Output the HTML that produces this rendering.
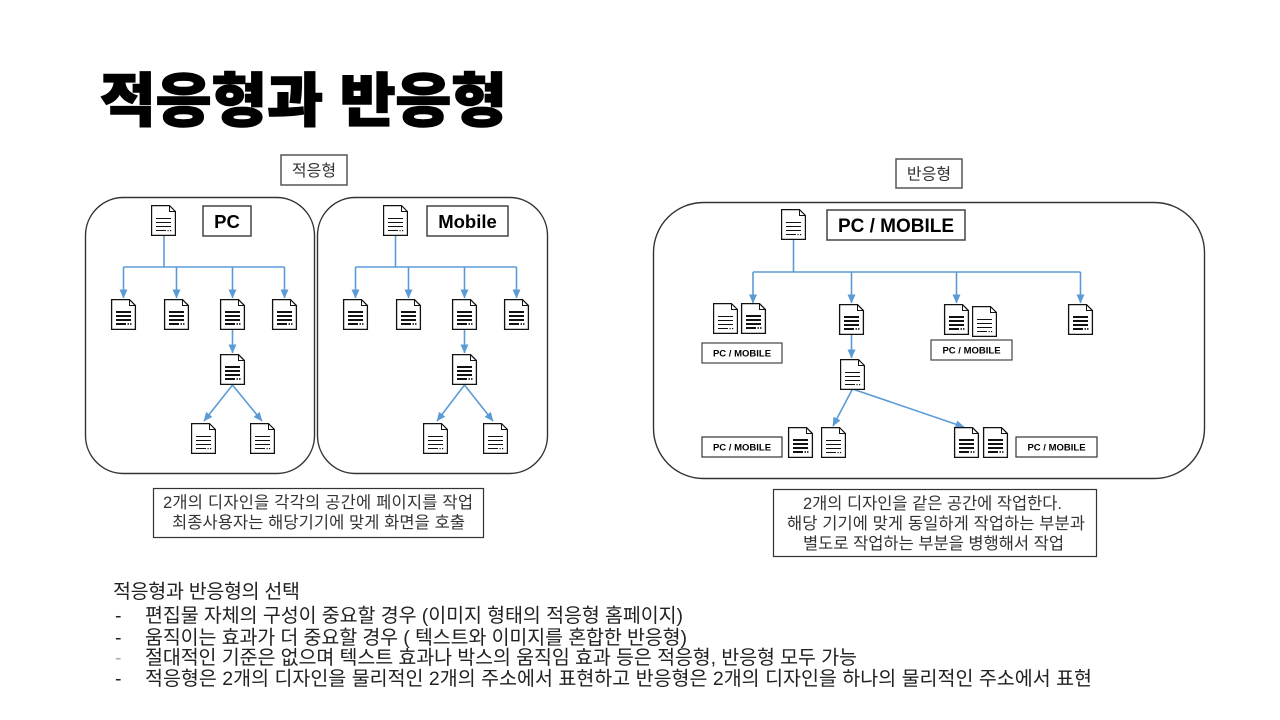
<!DOCTYPE html>
<html>
<head>
<meta charset="utf-8">
<style>
  html, body { margin: 0; padding: 0; background: #fff; }
  body { width: 1280px; height: 720px; overflow: hidden; }
  svg { display: block; }
  .k { font-family: "Liberation Sans", "Noto Sans CJK KR", sans-serif; }
  .b { font-family: "Liberation Sans", "Noto Sans CJK KR", sans-serif; font-weight: 700; }
</style>
</head>
<body>
<svg width="1280" height="720" viewBox="0 0 1280 720" xmlns="http://www.w3.org/2000/svg">
  <defs>
    <marker id="ar" markerUnits="userSpaceOnUse" markerWidth="9" markerHeight="9" viewBox="0 0 9 9" refX="8.5" refY="4.5" orient="auto">
      <path d="M0,0.5 L9,4.5 L0,8.5 Z" fill="#5b9bd5"/>
    </marker>
    <symbol id="dt" viewBox="0 0 25 31" width="25" height="31" overflow="visible">
      <path d="M0.6,0.6 H18.5 L24.4,6.5 V30.4 H0.6 Z" fill="#fff" stroke="#111" stroke-width="1.2"/>
      <path d="M18.5,0.6 V6.5 H24.4" fill="none" stroke="#111" stroke-width="1"/>
      <g stroke="#111" stroke-width="1">
        <line x1="5" y1="13.5" x2="20" y2="13.5"/>
        <line x1="5" y1="17.5" x2="20" y2="17.5"/>
        <line x1="5" y1="21.5" x2="20" y2="21.5"/>
        <line x1="5" y1="25.5" x2="15" y2="25.5"/>
      </g>
      <rect x="16.5" y="25" width="1.2" height="1.2" fill="#111"/>
      <rect x="19" y="25" width="1.2" height="1.2" fill="#111"/>
    </symbol>
    <symbol id="db" viewBox="0 0 25 31" width="25" height="31" overflow="visible">
      <path d="M0.6,0.6 H18.5 L24.4,6.5 V30.4 H0.6 Z" fill="#fff" stroke="#111" stroke-width="1.3"/>
      <path d="M18.5,0.6 V6.5 H24.4" fill="none" stroke="#111" stroke-width="1"/>
      <g stroke="#111" stroke-width="2">
        <line x1="5" y1="13" x2="20" y2="13"/>
        <line x1="5" y1="17" x2="20" y2="17"/>
        <line x1="5" y1="21" x2="20" y2="21"/>
        <line x1="5" y1="25" x2="15" y2="25"/>
      </g>
      <rect x="16.5" y="24.2" width="1.5" height="1.6" fill="#111"/>
      <rect x="19" y="24.2" width="1.5" height="1.6" fill="#111"/>
    </symbol>
  </defs>

  <!-- Title -->
  <text class="k" x="100" y="121" font-size="58" font-weight="900" fill="#000" stroke="#000" stroke-width="1.5" textLength="407" lengthAdjust="spacingAndGlyphs">적응형과 반응형</text>

  <!-- Section labels -->
  <rect x="281" y="155" width="66" height="30" fill="#fff" stroke="#555" stroke-width="1.5"/>
  <text class="k" x="314" y="176" font-size="16" fill="#333" text-anchor="middle">적응형</text>
  <rect x="896" y="159" width="66" height="29" fill="#fff" stroke="#555" stroke-width="1.5"/>
  <text class="k" x="929" y="179.5" font-size="16" fill="#333" text-anchor="middle">반응형</text>

  <!-- Containers -->
  <rect x="85.5" y="197.5" width="229" height="276" rx="38" ry="38" fill="none" stroke="#333" stroke-width="1.4"/>
  <rect x="317.5" y="197.5" width="230" height="276" rx="38" ry="38" fill="none" stroke="#333" stroke-width="1.4"/>
  <rect x="653.5" y="202.5" width="551" height="276" rx="50" ry="50" fill="none" stroke="#333" stroke-width="1.4"/>

  <!-- Connectors -->
  <g stroke="#5b9bd5" stroke-width="1.6" fill="none">
    <!-- PC -->
    <line x1="164" y1="236" x2="164" y2="267"/>
    <line x1="123.5" y1="267" x2="284.5" y2="267"/>
    <line x1="123.5" y1="267" x2="123.5" y2="298" marker-end="url(#ar)"/>
    <line x1="176.5" y1="267" x2="176.5" y2="298" marker-end="url(#ar)"/>
    <line x1="232.5" y1="267" x2="232.5" y2="298" marker-end="url(#ar)"/>
    <line x1="284.5" y1="267" x2="284.5" y2="298" marker-end="url(#ar)"/>
    <line x1="232.5" y1="330" x2="232.5" y2="353" marker-end="url(#ar)"/>
    <line x1="232.5" y1="385" x2="204" y2="421" marker-end="url(#ar)"/>
    <line x1="232.5" y1="385" x2="262" y2="421" marker-end="url(#ar)"/>
    <!-- Mobile -->
    <line x1="395.5" y1="236" x2="395.5" y2="267"/>
    <line x1="355.5" y1="267" x2="516.5" y2="267"/>
    <line x1="355.5" y1="267" x2="355.5" y2="298" marker-end="url(#ar)"/>
    <line x1="408.5" y1="267" x2="408.5" y2="298" marker-end="url(#ar)"/>
    <line x1="464.5" y1="267" x2="464.5" y2="298" marker-end="url(#ar)"/>
    <line x1="516.5" y1="267" x2="516.5" y2="298" marker-end="url(#ar)"/>
    <line x1="464.5" y1="330" x2="464.5" y2="353" marker-end="url(#ar)"/>
    <line x1="464.5" y1="385" x2="437" y2="421" marker-end="url(#ar)"/>
    <line x1="464.5" y1="385" x2="493" y2="421" marker-end="url(#ar)"/>
    <!-- Responsive -->
    <line x1="793.5" y1="240" x2="793.5" y2="272"/>
    <line x1="753" y1="272" x2="1080.5" y2="272"/>
    <line x1="753" y1="272" x2="753" y2="303" marker-end="url(#ar)"/>
    <line x1="851.5" y1="272" x2="851.5" y2="303" marker-end="url(#ar)"/>
    <line x1="956.5" y1="272" x2="956.5" y2="303" marker-end="url(#ar)"/>
    <line x1="1080.5" y1="272" x2="1080.5" y2="303" marker-end="url(#ar)"/>
    <line x1="851.5" y1="334" x2="851.5" y2="358" marker-end="url(#ar)"/>
    <line x1="852.5" y1="389" x2="833" y2="426" marker-end="url(#ar)"/>
    <line x1="852.5" y1="389" x2="964" y2="427" marker-end="url(#ar)"/>
  </g>

  <!-- Docs: PC -->
  <use href="#dt" x="151" y="205"/>
  <use href="#db" x="111" y="299"/>
  <use href="#db" x="164" y="299"/>
  <use href="#db" x="220" y="299"/>
  <use href="#db" x="272" y="299"/>
  <use href="#db" x="220" y="354"/>
  <use href="#dt" x="191" y="423"/>
  <use href="#dt" x="250" y="423"/>

  <!-- Docs: Mobile -->
  <use href="#dt" x="383" y="205"/>
  <use href="#db" x="343" y="299"/>
  <use href="#db" x="396" y="299"/>
  <use href="#db" x="452" y="299"/>
  <use href="#db" x="504" y="299"/>
  <use href="#db" x="452" y="354"/>
  <use href="#dt" x="423" y="423"/>
  <use href="#dt" x="483" y="423"/>

  <!-- Docs: Responsive -->
  <use href="#dt" x="781" y="209"/>
  <use href="#dt" x="713" y="303"/>
  <use href="#db" x="741" y="303"/>
  <use href="#db" x="839" y="304"/>
  <use href="#dt" x="840" y="359"/>
  <use href="#db" x="944" y="304"/>
  <use href="#dt" x="972" y="306"/>
  <use href="#db" x="1068" y="304"/>
  <use href="#db" x="788" y="427"/>
  <use href="#dt" x="821" y="427"/>
  <use href="#db" x="954" y="427"/>
  <use href="#db" x="983" y="427"/>

  <!-- Bold label boxes -->
  <rect x="203" y="206" width="48" height="30" fill="#fff" stroke="#444" stroke-width="1.5"/>
  <text class="b" x="227" y="228" font-size="18.5" fill="#000" text-anchor="middle">PC</text>
  <rect x="427" y="206" width="81" height="30" fill="#fff" stroke="#444" stroke-width="1.5"/>
  <text class="b" x="467.5" y="228" font-size="18.5" fill="#000" text-anchor="middle">Mobile</text>
  <rect x="827" y="210" width="138" height="30" fill="#fff" stroke="#444" stroke-width="1.5"/>
  <text class="b" x="896" y="232" font-size="19" fill="#000" text-anchor="middle">PC / MOBILE</text>

  <!-- Small PC / MOBILE labels -->
  <rect x="702" y="343" width="80" height="20" fill="#fff" stroke="#444" stroke-width="1.2"/>
  <text class="b" x="742" y="356.5" font-size="9.5" fill="#000" text-anchor="middle">PC / MOBILE</text>
  <rect x="931" y="340" width="81" height="20" fill="#fff" stroke="#444" stroke-width="1.2"/>
  <text class="b" x="971.5" y="353.5" font-size="9.5" fill="#000" text-anchor="middle">PC / MOBILE</text>
  <rect x="702" y="437" width="80" height="20" fill="#fff" stroke="#333" stroke-width="1.2"/>
  <text class="b" x="742" y="450.5" font-size="9.5" fill="#000" text-anchor="middle">PC / MOBILE</text>
  <rect x="1016" y="437" width="81" height="20" fill="#fff" stroke="#333" stroke-width="1.2"/>
  <text class="b" x="1056.5" y="450.5" font-size="9.5" fill="#000" text-anchor="middle">PC / MOBILE</text>

  <!-- Description boxes -->
  <rect x="153.5" y="488.5" width="330" height="49" fill="#fff" stroke="#333" stroke-width="1.2"/>
  <text class="k" x="163" y="508" font-size="16.5" fill="#333" textLength="310" lengthAdjust="spacing">2개의 디자인을 각각의 공간에 페이지를 작업</text>
  <text class="k" x="172" y="528" font-size="16.5" fill="#333" textLength="293" lengthAdjust="spacing">최종사용자는 해당기기에 맞게 화면을 호출</text>

  <rect x="773.5" y="489.5" width="323" height="67" fill="#fff" stroke="#333" stroke-width="1.2"/>
  <text class="k" x="803" y="509" font-size="16.5" fill="#333" textLength="259" lengthAdjust="spacing">2개의 디자인을 같은 공간에 작업한다.</text>
  <text class="k" x="787" y="529" font-size="16.5" fill="#333" textLength="298" lengthAdjust="spacing">해당 기기에 맞게 동일하게 작업하는 부분과</text>
  <text class="k" x="803" y="549" font-size="16.5" fill="#333" textLength="261" lengthAdjust="spacing">별도로 작업하는 부분을 병행해서 작업</text>

  <!-- Bottom list -->
  <g class="k" font-size="19.5" fill="#222">
    <text x="113" y="598" textLength="187" lengthAdjust="spacing">적응형과 반응형의 선택</text>
    <text x="115" y="622">-</text>
    <text x="145" y="622" textLength="538" lengthAdjust="spacing">편집물 자체의 구성이 중요할 경우 (이미지 형태의 적응형 홈페이지)</text>
    <text x="115" y="644">-</text>
    <text x="145" y="644" textLength="542" lengthAdjust="spacing">움직이는 효과가 더 중요할 경우 ( 텍스트와 이미지를 혼합한 반응형)</text>
    <text x="115" y="664" fill="#aaa">-</text>
    <text x="145" y="664" textLength="712" lengthAdjust="spacing">절대적인 기준은 없으며 텍스트 효과나 박스의 움직임 효과 등은 적응형, 반응형 모두 가능</text>
    <text x="115" y="685">-</text>
    <text x="145" y="685" textLength="947" lengthAdjust="spacing">적응형은 2개의 디자인을 물리적인 2개의 주소에서 표현하고 반응형은 2개의 디자인을 하나의 물리적인 주소에서 표현</text>
  </g>
</svg>
</body>
</html>
